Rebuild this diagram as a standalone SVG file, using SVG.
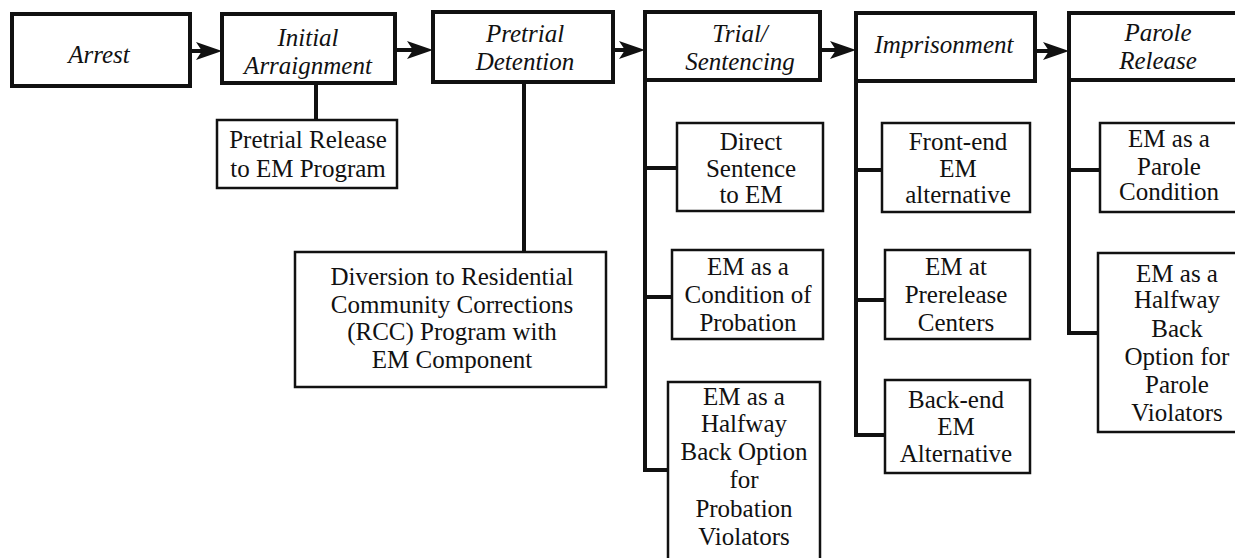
<svg xmlns="http://www.w3.org/2000/svg" width="1235" height="558" viewBox="0 0 1235 558">
<style>
.main rect{fill:#fff;stroke:#111;stroke-width:4}
.sub rect{fill:#fff;stroke:#111;stroke-width:2.5}
.main text{font-style:italic;font-size:25px;fill:#111;text-anchor:middle}
.sub text{font-size:25px;fill:#111;text-anchor:middle}
.conn path{fill:none;stroke:#111;stroke-width:4;stroke-linejoin:miter}
.arr line{stroke:#111;stroke-width:4}
</style>
<defs>
<marker id="ah" markerUnits="userSpaceOnUse" markerWidth="26" markerHeight="18" viewBox="0 0 26 18" refX="14" refY="9" orient="auto">
<path d="M0,0 L26,9 L0,18 L6,9 Z" fill="#111"/>
</marker>
</defs>
<rect width="1235" height="558" fill="#fff"/>

<g class="conn" id="connectors">
<path d="M316,83 V120"/>
<path d="M524,82 V252"/>
<path d="M645,80 V470 H668"/>
<path d="M645,168 H677"/>
<path d="M645,297 H672"/>
<path d="M856,81 V435 H885"/>
<path d="M856,170 H882"/>
<path d="M856,300 H885"/>
<path d="M1069,80 V333 H1098"/>
<path d="M1069,170 H1100"/>
<g class="arr">
<line x1="190" y1="51" x2="210" y2="51" marker-end="url(#ah)"/>
<line x1="395" y1="50" x2="421" y2="50" marker-end="url(#ah)"/>
<line x1="613" y1="50" x2="633" y2="50" marker-end="url(#ah)"/>
<line x1="820" y1="50" x2="844" y2="50" marker-end="url(#ah)"/>
<line x1="1035" y1="51" x2="1057" y2="51" marker-end="url(#ah)"/>
</g>
</g>

<g font-family="Liberation Serif, Times New Roman, serif">
<g class="main" id="arrest"><rect x="12" y="14" width="178" height="72"/><text x="99" y="63">Arrest</text></g>
<g class="main" id="initial-arraignment"><rect x="222" y="14" width="173" height="69"/><text x="308" y="46">Initial</text><text x="308" y="74">Arraignment</text></g>
<g class="main" id="pretrial-detention"><rect x="433" y="12" width="180" height="70"/><text x="525" y="42">Pretrial</text><text x="525" y="70">Detention</text></g>
<g class="main" id="trial-sentencing"><rect x="645" y="12" width="175" height="68"/><text x="740" y="42">Trial/</text><text x="740" y="70">Sentencing</text></g>
<g class="main" id="imprisonment"><rect x="856" y="13" width="179" height="68"/><text x="944" y="53">Imprisonment</text></g>
<g class="main" id="parole-release"><rect x="1069" y="13" width="200" height="67"/><text x="1158" y="41">Parole</text><text x="1158" y="69">Release</text></g>

<g class="sub" id="pretrial-release"><rect x="217" y="120" width="180" height="68"/><text x="308" y="148">Pretrial Release</text><text x="308" y="177">to EM Program</text></g>
<g class="sub" id="diversion-rcc"><rect x="295" y="252" width="311" height="135"/><text x="452" y="285">Diversion to Residential</text><text x="452" y="313">Community Corrections</text><text x="452" y="340">(RCC) Program with</text><text x="452" y="368">EM Component</text></g>
<g class="sub" id="direct-sentence"><rect x="677" y="123" width="146" height="88"/><text x="751" y="150">Direct</text><text x="751" y="177">Sentence</text><text x="751" y="203">to EM</text></g>
<g class="sub" id="condition-probation"><rect x="672" y="250" width="151" height="89"/><text x="748" y="275">EM as a</text><text x="748" y="303">Condition of</text><text x="748" y="331">Probation</text></g>
<g class="sub" id="halfway-probation"><rect x="668" y="382" width="152" height="190"/><text x="744" y="405">EM as a</text><text x="744" y="432">Halfway</text><text x="744" y="460">Back Option</text><text x="744" y="488">for</text><text x="744" y="517">Probation</text><text x="744" y="545">Violators</text></g>
<g class="sub" id="front-end"><rect x="882" y="123" width="148" height="89"/><text x="958" y="150">Front-end</text><text x="958" y="177">EM</text><text x="958" y="203">alternative</text></g>
<g class="sub" id="prerelease"><rect x="885" y="250" width="145" height="89"/><text x="956" y="275">EM at</text><text x="956" y="303">Prerelease</text><text x="956" y="331">Centers</text></g>
<g class="sub" id="back-end"><rect x="885" y="380" width="145" height="93"/><text x="956" y="408">Back-end</text><text x="956" y="435">EM</text><text x="956" y="462">Alternative</text></g>
<g class="sub" id="parole-condition"><rect x="1100" y="123" width="140" height="89"/><text x="1169" y="147">EM as a</text><text x="1169" y="175">Parole</text><text x="1169" y="200">Condition</text></g>
<g class="sub" id="halfway-parole"><rect x="1098" y="253" width="160" height="179"/><text x="1177" y="282">EM as a</text><text x="1177" y="308">Halfway</text><text x="1177" y="337">Back</text><text x="1177" y="365">Option for</text><text x="1177" y="393">Parole</text><text x="1177" y="421">Violators</text></g>
</g>
</svg>
